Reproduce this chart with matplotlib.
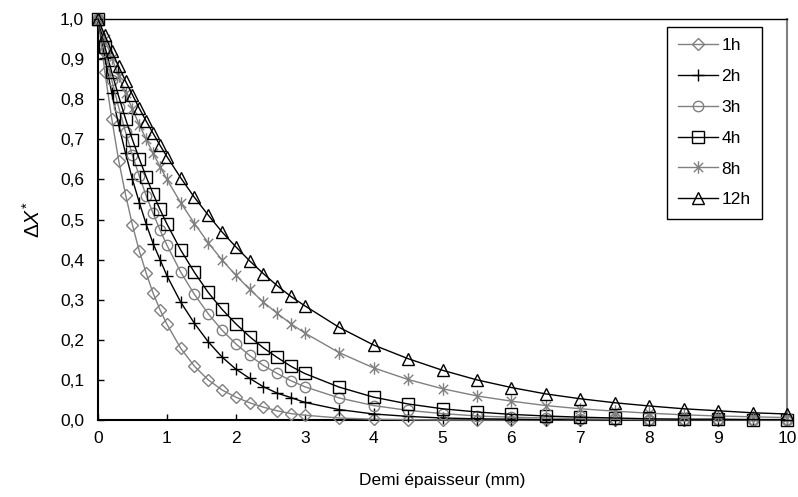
import matplotlib
matplotlib.use("Agg")
import matplotlib.pyplot as plt
from matplotlib.path import Path

plt.rcParams['font.family'] = ['Liberation Sans', 'DejaVu Sans']
plt.rcParams['mathtext.fontset'] = 'custom'
plt.rcParams['mathtext.rm'] = 'Liberation Sans'
plt.rcParams['mathtext.it'] = 'Liberation Sans:italic'

x = [0, 0.1, 0.2, 0.3, 0.4, 0.5, 0.6, 0.7, 0.8, 0.9, 1.0,
     1.2, 1.4, 1.6, 1.8, 2.0, 2.2, 2.4, 2.6, 2.8, 3.0,
     3.5, 4.0, 4.5, 5.0, 5.5, 6.0, 6.5, 7.0, 7.5, 8.0, 8.5, 9.0, 9.5, 10.0]

y_1h = [1.0, 0.867, 0.751, 0.647, 0.562, 0.486, 0.421, 0.366, 0.316, 0.275, 0.239,
        0.179, 0.134, 0.100, 0.075, 0.057, 0.043, 0.032, 0.023, 0.016, 0.012,
        0.005, 0.002, 0.001, 0.0, 0.0, 0.0, 0.0, 0.0, 0.0, 0.0, 0.0, 0.0, 0.0, 0.0]
y_2h = [1.0, 0.903, 0.815, 0.736, 0.665, 0.600, 0.542, 0.488, 0.440, 0.400, 0.360,
        0.294, 0.241, 0.195, 0.157, 0.127, 0.104, 0.083, 0.067, 0.056, 0.044,
        0.026, 0.015, 0.009, 0.005, 0.003, 0.002, 0.001, 0.001, 0.0, 0.0, 0.0, 0.0, 0.0, 0.0]
y_3h = [1.0, 0.920, 0.847, 0.780, 0.718, 0.660, 0.608, 0.559, 0.515, 0.474, 0.436,
        0.369, 0.313, 0.265, 0.224, 0.190, 0.161, 0.136, 0.116, 0.098, 0.083,
        0.055, 0.036, 0.024, 0.016, 0.010, 0.007, 0.005, 0.003, 0.002, 0.001, 0.001, 0.001, 0.0, 0.0]
y_4h = [1.0, 0.931, 0.867, 0.807, 0.751, 0.699, 0.651, 0.606, 0.564, 0.525, 0.489,
        0.424, 0.368, 0.318, 0.276, 0.240, 0.208, 0.180, 0.156, 0.134, 0.116,
        0.082, 0.057, 0.040, 0.028, 0.020, 0.014, 0.010, 0.007, 0.005, 0.003, 0.002, 0.002, 0.001, 0.001]
y_8h = [1.0, 0.950, 0.903, 0.858, 0.815, 0.775, 0.736, 0.700, 0.665, 0.632, 0.600,
        0.542, 0.490, 0.442, 0.399, 0.361, 0.326, 0.294, 0.266, 0.240, 0.217,
        0.168, 0.130, 0.101, 0.078, 0.060, 0.047, 0.036, 0.028, 0.022, 0.017, 0.013, 0.010, 0.008, 0.006]
y_12h = [1.0, 0.959, 0.919, 0.882, 0.845, 0.811, 0.777, 0.745, 0.715, 0.685, 0.657,
         0.604, 0.555, 0.511, 0.469, 0.432, 0.397, 0.365, 0.335, 0.308, 0.285,
         0.231, 0.187, 0.153, 0.124, 0.100, 0.081, 0.065, 0.053, 0.043, 0.035, 0.028, 0.023, 0.018, 0.015]

labels = ['1h', '2h', '3h', '4h', '8h', '12h']
x_ticks = list(range(0, 11))
y_ticks = [0.0, 0.1, 0.2, 0.3, 0.4, 0.5, 0.6, 0.7, 0.8, 0.9, 1.0]
y_tick_labels = ['0,0', '0,1', '0,2', '0,3', '0,4', '0,5', '0,6', '0,7', '0,8', '0,9', '1,0']

GREY = '#808080'
BLACK = '#000000'

# Excel-like asterisk: vertical line plus an X
star_path = Path(
    [(0, -1), (0, 1), (-0.75, -0.75), (0.75, 0.75), (-0.75, 0.75), (0.75, -0.75)],
    [Path.MOVETO, Path.LINETO, Path.MOVETO, Path.LINETO, Path.MOVETO, Path.LINETO])

series = [
    (y_1h, GREY, 'D', 6),
    (y_2h, BLACK, '+', 9),
    (y_3h, GREY, 'o', 7.5),
    (y_4h, BLACK, 's', 8),
    (y_8h, GREY, star_path, 9),
    (y_12h, BLACK, '^', 8.5),
]

fig = plt.figure(figsize=(7.98, 4.97), dpi=100)
ax = fig.add_axes([98 / 798, 1 - 420 / 497, (787 - 98) / 798, (420 - 19) / 497])

for (ys, col, mk, ms), lab in zip(series, labels):
    ax.plot(x, ys, color=col, lw=1.0, marker=mk, markersize=ms,
            markerfacecolor='none', markeredgecolor=col, markeredgewidth=1.0,
            label=lab, clip_on=False, zorder=3)

ax.set_xlim(0, 10)
ax.set_ylim(0, 1.0)
ax.set_xticks(x_ticks)
ax.set_xticklabels([str(t) for t in x_ticks])
ax.set_yticks(y_ticks)
ax.set_yticklabels(y_tick_labels)
ax.tick_params(axis='both', direction='in', length=4, width=1, labelsize=12.5,
               colors=BLACK)
ax.tick_params(axis='x', pad=8)
ax.tick_params(axis='y', pad=10)

for side in ['left', 'bottom']:
    ax.spines[side].set_color(BLACK)
    ax.spines[side].set_linewidth(1.5)
ax.spines['top'].set_color(BLACK)
ax.spines['top'].set_linewidth(1.0)
ax.spines['right'].set_color(GREY)
ax.spines['right'].set_linewidth(1.5)

ax.set_xlabel('Demi épaisseur (mm)', fontsize=12.5, labelpad=19)
ax.set_ylabel(r'$\Delta \mathit{X}^{*}$', fontsize=15, labelpad=12)

leg = ax.legend(loc='upper right', bbox_to_anchor=((762 - 98) / (787 - 98), (420 - 27) / (420 - 19)),
                borderaxespad=0, frameon=True, fancybox=False, framealpha=1,
                edgecolor=BLACK, fontsize=12.5, numpoints=1, handlelength=2.3,
                handletextpad=0.2, labelspacing=0.9, borderpad=0.65)
leg.get_frame().set_linewidth(1.0)

fig.savefig('out.png', dpi=100)
